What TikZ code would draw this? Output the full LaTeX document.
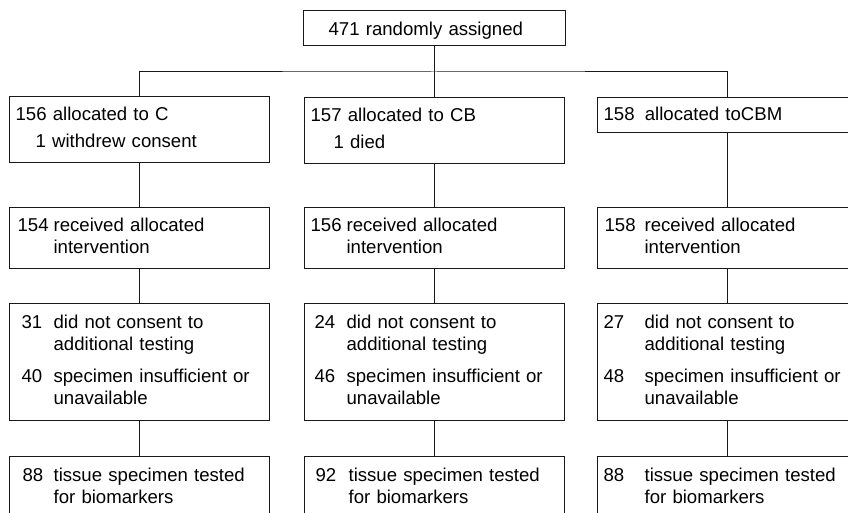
\documentclass[tikz,border=0pt]{standalone}
\usepackage{fontspec}
\setmainfont{Liberation Sans}
\usepackage{tikz}

% number column + text column, lead = space before the number
\newcommand{\cntrows}[3]{\begin{tabular}{@{\hspace*{#1}}p{#2}@{}l@{}}#3\end{tabular}}

\begin{document}
\begin{tikzpicture}[
    x=1pt, y=-1pt,
    font=\fontsize{18.6}{22}\selectfont,
    box/.style={draw=black!90, line width=1.2pt, anchor=north west, inner xsep=0pt, inner ysep=0pt,
                text width=260pt, minimum width=260pt, align=left},
    link/.style={draw=black!90, line width=1pt},
  ]
    \useasboundingbox (0,0) rectangle (848,513);
    \clip (0,0) rectangle (848,513);

    % Randomisation
    \node[box, text width=262pt, minimum width=262pt, minimum height=35pt] (rand) at (303,10)
      {\begin{tabular}{@{\hspace*{25pt}}l@{}}\rule{0pt}{21.4pt}471 randomly assigned\end{tabular}};
    \coordinate (split) at (434,72);

    % Arm C
    \node[box, minimum height=66pt] (c1) at (9,96)
      {\begin{tabular}{@{}l@{}}\hspace*{6pt}156 allocated to C\\[5.5pt]\hspace*{26pt}1 withdrew consent\end{tabular}};
    \node[box, minimum height=61pt] (c2) at (9,207)
      {\cntrows{8pt}{36pt}{154 & received allocated\\ & intervention}};
    \node[box, minimum height=117pt] (c3) at (9,303)
      {\cntrows{12pt}{32pt}{31 & did not consent to\\ & additional testing\\[10pt] 40 & specimen insufficient or\\ & unavailable}};
    \node[box, minimum height=62pt] (c4) at (9,456)
      {\cntrows{13pt}{31pt}{88 & tissue specimen tested\\ & for biomarkers}};

    % Arm CB
    \node[box, minimum height=66pt] (cb1) at (304,97)
      {\begin{tabular}{@{}l@{}}\hspace*{6pt}157 allocated to CB\\[5.5pt]\hspace*{29pt}1 died\end{tabular}};
    \node[box, minimum height=61pt] (cb2) at (304,207)
      {\cntrows{6pt}{36pt}{156 & received allocated\\ & intervention}};
    \node[box, minimum height=117pt] (cb3) at (304,303)
      {\cntrows{10pt}{32pt}{24 & did not consent to\\ & additional testing\\[10pt] 46 & specimen insufficient or\\ & unavailable}};
    \node[box, minimum height=62pt] (cb4) at (304,456)
      {\cntrows{11pt}{33pt}{92 & tissue specimen tested\\ & for biomarkers}};

    % Arm CBM
    \node[box, minimum height=35pt] (cbm1) at (597,97)
      {\begin{tabular}{@{}l@{}}\rule{0pt}{17pt}\hspace*{6pt}158\hspace{4pt} allocated toCBM\end{tabular}};
    \node[box, minimum height=61pt] (cbm2) at (597,207)
      {\cntrows{7pt}{40pt}{158 & received allocated\\ & intervention}};
    \node[box, minimum height=117pt] (cbm3) at (597,303)
      {\cntrows{6pt}{41pt}{27 & did not consent to\\ & additional testing\\[10pt] 48 & specimen insufficient or\\ & unavailable}};
    \node[box, minimum height=62pt] (cbm4) at (597,456)
      {\cntrows{6pt}{41pt}{88 & tissue specimen tested\\ & for biomarkers}};

    % Edges
    \draw[link] (rand.south) -- (cb1.north);
    \draw[link] (c1.north) |- (split) -| (cbm1.north);
    \foreach \arm in {c,cb,cbm} {
      \draw[link] (\arm1.south) -- (\arm2.north);
      \draw[link] (\arm2.south) -- (\arm3.north);
      \draw[link] (\arm3.south) -- (\arm4.north);
    }
  \end{tikzpicture}
\end{document}
